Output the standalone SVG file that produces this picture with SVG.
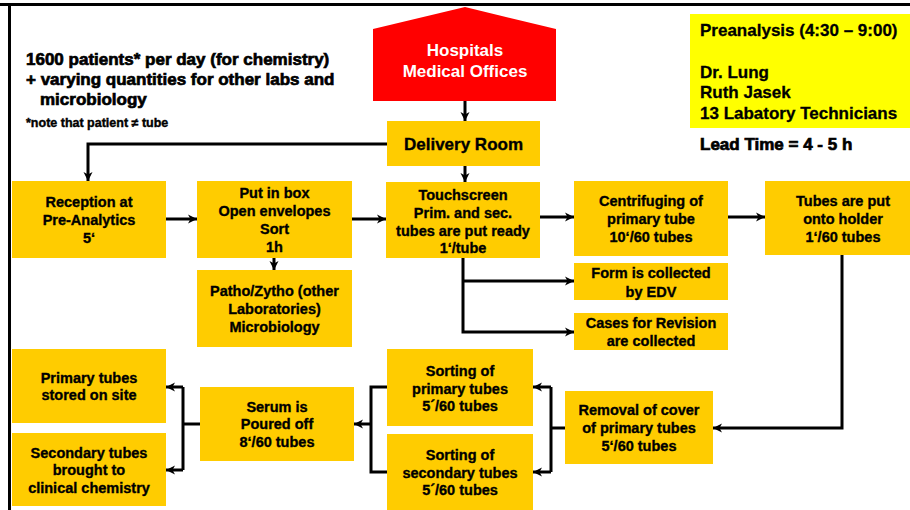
<svg xmlns="http://www.w3.org/2000/svg" width="910" height="510" viewBox="0 0 910 510">
  <style>
    .box { fill: #FFCC00; }
    .t { font-family: "Liberation Sans", Arial, sans-serif; font-weight: bold; font-size: 14.5px; fill: #000; stroke: #000; stroke-width: 0.35; text-anchor: middle; }
    .big { font-family: "Liberation Sans", Arial, sans-serif; font-weight: bold; font-size: 17px; fill: #000; stroke: #000; stroke-width: 0.3; }
    .heavy { stroke-width: 0.7; }
    .note { font-family: "Liberation Sans", Arial, sans-serif; font-weight: bold; font-size: 12.5px; fill: #000; stroke: #000; stroke-width: 0.4; }
    .white { font-family: "Liberation Sans", Arial, sans-serif; font-weight: bold; font-size: 17px; fill: #fff; text-anchor: middle; }
    .line { fill: none; stroke: #000; stroke-width: 3; }
  </style>
  <defs>
    <marker id="arrow" markerUnits="userSpaceOnUse" markerWidth="10" markerHeight="10" refX="9" refY="5" orient="auto">
      <path d="M0,0.5 L9,5 L0,9.5 L2.5,5 z" fill="#000"/>
    </marker>
  </defs>

  <rect width="910" height="510" fill="#fff"/>

  <!-- frame -->
  <g id="frame">
    <line x1="0" y1="4.5" x2="910" y2="4.5" stroke="#000" stroke-width="3"/>
    <line x1="9.5" y1="3" x2="9.5" y2="510" stroke="#000" stroke-width="3"/>
  </g>

  <!-- headline text -->
  <g id="summary">
    <text class="big heavy" x="26" y="65">1600 patients* per day (for chemistry)</text>
    <text class="big heavy" x="26" y="85">+ varying quantities for other labs and</text>
    <text class="big heavy" x="40" y="105">microbiology</text>
    <text class="note" x="26" y="126.5">*note that patient ≠ tube</text>
  </g>

  <!-- staffing panel -->
  <g id="info">
    <rect x="690" y="14" width="220" height="114" fill="#FFFF00"/>
    <text class="big" x="700" y="36">Preanalysis (4:30 – 9:00)</text>
    <text class="big" x="700" y="78">Dr. Lung</text>
    <text class="big" x="700" y="98">Ruth Jasek</text>
    <text class="big" x="700" y="119">13 Labatory Technicians</text>
    <text class="big heavy" x="700" y="150">Lead Time = 4 - 5 h</text>
  </g>

  <g id="hospitals">
    <polygon points="373,29 465,7 556,29 556,101 373,101" fill="#FF0000"/>
    <text class="white" x="465" y="56">Hospitals</text>
    <text class="white" x="465" y="77">Medical Offices</text>
  </g>

  <g id="delivery">
    <rect class="box" x="387" y="121" width="153" height="45"/>
    <text class="t" x="463.5" y="150" style="font-size:17px">Delivery Room</text>
  </g>

  <g id="reception">
    <rect class="box" x="12" y="181" width="154" height="77"/>
    <text class="t" x="89" y="207">Reception at</text>
    <text class="t" x="89" y="225">Pre-Analytics</text>
    <text class="t" x="89" y="243">5‘</text>
  </g>

  <g id="putinbox">
    <rect class="box" x="197" y="181" width="155" height="77"/>
    <text class="t" x="274.5" y="198">Put in box</text>
    <text class="t" x="274.5" y="216">Open envelopes</text>
    <text class="t" x="274.5" y="234">Sort</text>
    <text class="t" x="274.5" y="252">1h</text>
  </g>

  <g id="patho">
    <rect class="box" x="197" y="270" width="155" height="77"/>
    <text class="t" x="274.5" y="296">Patho/Zytho (other</text>
    <text class="t" x="274.5" y="314">Laboratories)</text>
    <text class="t" x="274.5" y="332">Microbiology</text>
  </g>

  <g id="touchscreen">
    <rect class="box" x="386" y="182" width="154" height="76"/>
    <text class="t" x="463" y="200">Touchscreen</text>
    <text class="t" x="463" y="218">Prim. and sec.</text>
    <text class="t" x="463" y="236">tubes are put ready</text>
    <text class="t" x="463" y="253">1‘/tube</text>
  </g>

  <g id="centrifuging">
    <rect class="box" x="574" y="181" width="154" height="75"/>
    <text class="t" x="651" y="206">Centrifuging of</text>
    <text class="t" x="651" y="224">primary tube</text>
    <text class="t" x="651" y="242">10‘/60 tubes</text>
  </g>

  <g id="holder">
    <rect class="box" x="765" y="181" width="145" height="74"/>
    <text class="t" x="843" y="206">Tubes are put</text>
    <text class="t" x="843" y="224">onto holder</text>
    <text class="t" x="843" y="242">1‘/60 tubes</text>
  </g>

  <g id="form">
    <rect class="box" x="574" y="263" width="154" height="37"/>
    <text class="t" x="651" y="278">Form is collected</text>
    <text class="t" x="651" y="297">by EDV</text>
  </g>

  <g id="revision">
    <rect class="box" x="574" y="313" width="154" height="37"/>
    <text class="t" x="651" y="328">Cases for Revision</text>
    <text class="t" x="651" y="346">are collected</text>
  </g>

  <g id="removal">
    <rect class="box" x="565" y="391" width="148" height="73"/>
    <text class="t" x="639" y="415">Removal of cover</text>
    <text class="t" x="639" y="433">of primary tubes</text>
    <text class="t" x="639" y="451">5‘/60 tubes</text>
  </g>

  <g id="sortprimary">
    <rect class="box" x="387" y="349" width="146" height="77"/>
    <text class="t" x="460" y="376">Sorting of</text>
    <text class="t" x="460" y="394">primary tubes</text>
    <text class="t" x="460" y="411">5´/60 tubes</text>
  </g>

  <g id="sortsecondary">
    <rect class="box" x="387" y="434" width="146" height="80"/>
    <text class="t" x="460" y="460">Sorting of</text>
    <text class="t" x="460" y="478">secondary tubes</text>
    <text class="t" x="460" y="495">5´/60 tubes</text>
  </g>

  <g id="serum">
    <rect class="box" x="200" y="387" width="154" height="74"/>
    <text class="t" x="277" y="412">Serum is</text>
    <text class="t" x="277" y="429">Poured off</text>
    <text class="t" x="277" y="447">8‘/60 tubes</text>
  </g>

  <g id="stored">
    <rect class="box" x="12" y="349" width="154" height="74"/>
    <text class="t" x="89" y="383">Primary tubes</text>
    <text class="t" x="89" y="400">stored on site</text>
  </g>

  <g id="secondary">
    <rect class="box" x="12" y="433" width="154" height="73"/>
    <text class="t" x="89" y="458">Secondary tubes</text>
    <text class="t" x="89" y="475">brought to</text>
    <text class="t" x="89" y="493">clinical chemistry</text>
  </g>

  <!-- connectors -->
  <g id="connectors">
    <path class="line" d="M465,101 V121" marker-end="url(#arrow)"/>
    <path class="line" d="M465,166 V182" marker-end="url(#arrow)"/>
    <path class="line" d="M387,144 H88 V181" marker-end="url(#arrow)"/>
    <path class="line" d="M166,219 H197" marker-end="url(#arrow)"/>
    <path class="line" d="M352,219 H386" marker-end="url(#arrow)"/>
    <path class="line" d="M274,258 V270" marker-end="url(#arrow)"/>
    <path class="line" d="M540,217 H574" marker-end="url(#arrow)"/>
    <path class="line" d="M728,217 H765" marker-end="url(#arrow)"/>
    <path class="line" d="M463,258 V332 H574" marker-end="url(#arrow)"/>
    <path class="line" d="M463,281 H574" marker-end="url(#arrow)"/>
    <path class="line" d="M842,255 V428 H713" marker-end="url(#arrow)"/>
    <path class="line" d="M565,428 H551"/>
    <path class="line" d="M551,387 V472"/>
    <path class="line" d="M551,387 H533" marker-end="url(#arrow)"/>
    <path class="line" d="M551,472 H533" marker-end="url(#arrow)"/>
    <path class="line" d="M387,387 H371 V472 H387"/>
    <path class="line" d="M371,424 H354" marker-end="url(#arrow)"/>
    <path class="line" d="M200,424 H183"/>
    <path class="line" d="M183,387 V470"/>
    <path class="line" d="M183,387 H166" marker-end="url(#arrow)"/>
    <path class="line" d="M183,470 H166" marker-end="url(#arrow)"/>
  </g>
</svg>
